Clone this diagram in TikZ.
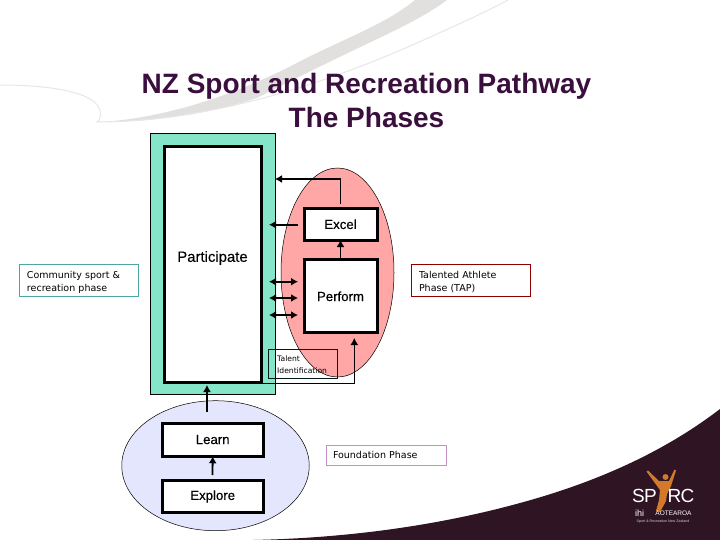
\documentclass[tikz,border=0pt]{standalone}
\usepackage{fontspec}
\setmainfont{Liberation Sans}
\newfontfamily\notefont{DejaVu Sans}
\newfontfamily\stagefont[FakeBold=0.25]{Liberation Sans}
\usetikzlibrary{shapes.geometric,arrows.meta}
\definecolor{plum}{HTML}{2F1424}
\definecolor{titlecol}{HTML}{3A0F3E}
\definecolor{greenfill}{HTML}{85E5C8}
\definecolor{pinkfill}{HTML}{FFA6A6}
\definecolor{lavfill}{HTML}{E3E6FC}
\definecolor{swoosh}{HTML}{E2DFDF}
\definecolor{swooshthin}{HTML}{E8E6E6}
\definecolor{logoorange}{HTML}{D2792B}
\tikzset{
  x=1pt,y=-1pt,
  stagebox/.style={draw=black,line width=3pt,fill=white,inner sep=0pt,outer sep=0pt,font=\stagefont\fontsize{13.2}{15}\selectfont},
  blob/.style={ellipse,draw=black,line width=0.5pt,inner sep=0pt,outer sep=0pt},
  notebox/.style={draw=#1,line width=1pt,fill=white,inner sep=0pt,outer sep=0pt,align=left,font=\notefont\fontsize{9.5}{12.5}\selectfont},
  flow/.style={line width=1.8pt,-{Latex[length=7pt,width=8pt]}},
  twoway/.style={line width=1.8pt,{Latex[length=7pt,width=8pt]}-{Latex[length=7pt,width=8pt]}},
}
\begin{document}
\begin{tikzpicture}
\useasboundingbox (0,0) rectangle (720,540);
\fill[white] (0,0) rectangle (720,540);
% background swooshes
\fill[swoosh] (100,122) .. controls (170,118) and (240,92) .. (293,65) .. controls (340,40) and (385,25) .. (415,0) -- (447,0) .. controls (420,20) and (385,35) .. (350,52) .. controls (325,64) and (300,76) .. (257,98) .. controls (215,112) and (160,122) .. (100,122) -- cycle;
\draw[swooshthin,line width=1pt] (0,85) .. controls (50,85) and (92,92) .. (99,108) .. controls (102,116) and (100,120) .. (97,122) .. controls (190,122) and (300,95) .. (417,43) .. controls (450,28) and (480,15) .. (508,0);
\fill[plum] (253,540) .. controls (350,538) and (440,525) .. (520,503) .. controls (590,484) and (660,455) .. (720,409) -- (720,540) -- cycle;
% logo
\fill[logoorange] (646.5,471.5) -- (648,470.5) -- (659,481) -- (669,481) -- (674.5,469.5) -- (676,470.5) -- (671,486) -- (667,494) -- (666,501) -- (660,512) -- (656,511) -- (659,500) -- (660,490) -- cycle;
\fill[logoorange] (665.5,477) circle (3pt);
\node (logoa) at (644.5,496) [text=white,font=\fontsize{19}{19}\selectfont\addfontfeature{LetterSpace=-3}] {SP};
\node (logob) at (681,496) [text=white,font=\fontsize{19}{19}\selectfont\addfontfeature{LetterSpace=-3}] {RC};
\node (logoc) at (639.5,513) [text=white,font=\fontsize{9}{9}\selectfont] {ihi};
\node (logod) at (673.5,513) [text=white,font=\fontsize{6.5}{7}\selectfont] {AOTEAROA};
\node (logoe) at (663,521.5) [text=white!80!plum,font=\fontsize{3.6}{4}\selectfont] {Sport \& Recreation New Zealand};
% title
\node (title) at (366.5,100) [text=titlecol,align=center,font=\bfseries\fontsize{28}{34}\selectfont] {NZ Sport and Recreation Pathway\\The Phases};
% phases
\node[draw=black,line width=0.5pt,fill=greenfill,minimum width=124.5pt,minimum height=260.5pt,inner sep=0pt,outer sep=0pt] (green) at (212.75,263.75) {};
\node[blob,fill=pinkfill,minimum width=113pt,minimum height=209pt] (pink) at (337.5,272.5) {};
\node[blob,fill=lavfill,minimum width=187.5pt,minimum height=130pt] (lav) at (215.5,465.7) {};
\node[stagebox,minimum width=96.5pt,minimum height=236pt] (participate) at (212.75,264.5) {};
\node[font=\stagefont\fontsize{14.9}{16}\selectfont] (participatelabel) at (212.5,258) {Participate};
\node[stagebox,minimum width=73pt,minimum height=31.5pt] (excel) at (340.5,224.25) {Excel};
\node[stagebox,minimum width=73pt,minimum height=72.5pt,text depth=0pt] (perform) at (340.5,295.75) {\raisebox{-1pt}{Perform}};
\node[stagebox,minimum width=101pt,minimum height=32.5pt] (learn) at (212.7,440) {\raisebox{1pt}{Learn}};
\node[stagebox,minimum width=101pt,minimum height=32.5pt] (explore) at (212.7,496.5) {Explore};
% notes
\node[notebox=teal!70!white,minimum width=119pt,minimum height=32pt,text width=104pt,inner xsep=7.5pt] (community) at (79,280) {\rule{0pt}{12pt}Community sport \&\\recreation phase};
\node[notebox=red!55!black,minimum width=119pt,minimum height=32pt,text width=104pt,inner xsep=6pt] (tap) at (471,280) {\rule{0pt}{11pt}Talented Athlete\\Phase (TAP)};
\node[notebox=violet!45!white,minimum width=119.5pt,minimum height=20pt,text width=106pt,inner xsep=7pt] (foundation) at (386,455.3) {Foundation Phase};
\node[draw=black!80!teal,line width=0.6pt,minimum width=68.5pt,minimum height=29pt,inner sep=0pt,outer sep=0pt] (talentbox) at (303,363.8) {};
\node[font=\notefont\fontsize{7.6}{11.5}\selectfont,align=left,anchor=west,inner sep=0pt] (talent) at (277,364.5) {Talent\\Identification};
% connectors
\coordinate (gtop) at (green.east |- 0,179);
\coordinate (eleft) at (297.7,224.7);
\coordinate (gex) at (269,224.7);
\coordinate (pwa) at (298,281.7);\coordinate (gwa) at (269,281.7);
\coordinate (pwb) at (298,298);\coordinate (gwb) at (269,298);
\coordinate (pwc) at (298,315);\coordinate (gwc) at (269,315);
\coordinate (pcorner) at (354.3,383.3);
\coordinate (pbelow) at (354.3,338);
\draw[line width=1.3pt,-{Latex[length=7pt,width=8pt]},shorten <=4pt] (excel.north) |- (gtop);
\draw[flow] (eleft) -- (gex);
\draw[flow] (perform.north) -- (excel.south);
\draw[twoway] (gwa) -- (pwa);
\draw[twoway] (gwb) -- (pwb);
\draw[twoway] (gwc) -- (pwc);
\draw[line width=1.2pt,-{Latex[length=7pt,width=8pt]}] (participate.south east |- pcorner) -- (pcorner) -- (pbelow);
\coordinate (lup) at (207,411.7);
\coordinate (pdown) at (207,385);
\draw[flow] (lup) -- (pdown);
\coordinate (eup2) at (212.5,475);
\draw[flow] (eup2) -- (learn.south);
\end{tikzpicture}
\end{document}
